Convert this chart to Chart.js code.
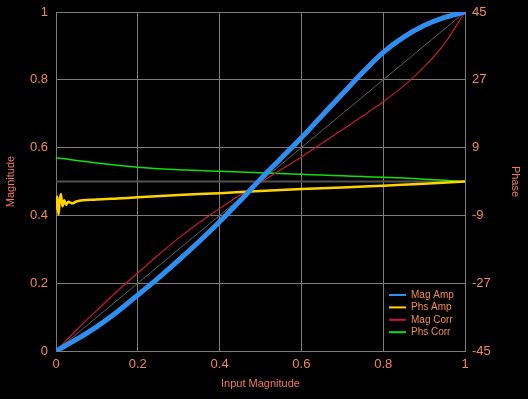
<!DOCTYPE html>
<html>
<head>
<meta charset="utf-8">
<script src="https://cdn.jsdelivr.net/npm/chart.js@4.4.1/dist/chart.umd.min.js"></script>
<style>
  html, body { margin: 0; padding: 0; background: #000; }
  #wrap { width: 528px; height: 399px; }
</style>
</head>
<body>
<div id="wrap"><canvas id="ampChart"></canvas></div>
<script>
// input magnitude samples
var magX = [0, 0.05, 0.1, 0.15, 0.2, 0.25, 0.3, 0.35, 0.4, 0.45, 0.5, 0.55, 0.6, 0.65, 0.7, 0.75, 0.8, 0.85, 0.9, 0.95, 1];

// magnitude curves (left axis)
var magAmp  = [0, 0.034, 0.072, 0.116, 0.165, 0.215, 0.268, 0.323, 0.381, 0.443, 0.507, 0.568, 0.629, 0.694, 0.758, 0.822, 0.881, 0.926, 0.96, 0.984, 1];
var magCorr = [0, 0.062, 0.12, 0.177, 0.23, 0.283, 0.333, 0.378, 0.42, 0.46, 0.497, 0.535, 0.572, 0.613, 0.653, 0.693, 0.735, 0.782, 0.838, 0.907, 1];

// phase curves (right axis, degrees)
var phsAmpX = [0, 0.003, 0.006, 0.009, 0.012, 0.016, 0.02, 0.025, 0.03, 0.04, 0.05, 0.1, 0.15, 0.2, 0.3, 0.4, 0.5, 0.6, 0.7, 0.8, 0.9, 1];
var phsAmp  = [-7.5, -4.0, -8.8, -5.2, -3.3, -6.6, -5.0, -6.2, -5.4, -5.8, -5.3, -4.8, -4.5, -4.2, -3.6, -3.1, -2.5, -2.0, -1.6, -1.1, -0.6, 0];
var phsCorr = [6.3, 5.6, 4.9, 4.3, 3.8, 3.4, 3.1, 2.9, 2.7, 2.5, 2.3, 2.1, 1.9, 1.7, 1.5, 1.3, 1.1, 0.9, 0.6, 0.3, 0];

// reference lines
var refX = [0, 1];
var refDiag = [0, 1];
var refMid = [0, 0];

var tickColor = '#f28a50';
var titleColor = '#f07a5c';
var gridColor = '#7c7c7c';

function pts(xs, ys) {
    return xs.map(function (x, i) { return { x: x, y: ys[i] }; });
}

// 1.0 -> "1", 0.0 -> "0"
function plainTick(v) {
    return String(Number(v.toFixed(1)));
}

// fixed axis width, no extra room for the end labels
function sideFit(w) {
    return function (s) {
        s.width = w;
        s.paddingTop = 0;
        s.paddingBottom = 0;
    };
}

// legend drawn inside the plot, lower right
var boxLegend = {
    id: 'boxLegend',
    afterDatasetsDraw: function (chart) {
        var ctx = chart.ctx;
        var area = chart.chartArea;
        var items = chart.data.datasets.filter(function (d) { return d.inLegend; });
        ctx.save();
        ctx.font = '10px "Liberation Sans", Arial, sans-serif';
        ctx.textBaseline = 'middle';
        items.forEach(function (d, i) {
            var y = area.bottom - 56 + i * 12.4;
            var x = area.right - 76;
            ctx.strokeStyle = d.borderColor;
            ctx.lineWidth = 2;
            ctx.beginPath();
            ctx.moveTo(x, y);
            ctx.lineTo(x + 17, y);
            ctx.stroke();
            ctx.fillStyle = tickColor;
            ctx.fillText(d.label, x + 22, y);
        });
        ctx.restore();
    }
};

var ctx = document.getElementById('ampChart').getContext('2d');
var chart = new Chart(ctx, {
    type: 'line',
    data: {
        datasets: [{
            label: 'Mag Amp',
            inLegend: true,
            data: pts(magX, magAmp),
            borderColor: '#2f8ff0',
            borderWidth: 5,
            yAxisID: 'y',
            order: 1
        }, {
            label: 'Phs Amp',
            inLegend: true,
            data: pts(phsAmpX, phsAmp),
            borderColor: '#ffd200',
            borderWidth: 2.5,
            yAxisID: 'y2',
            order: 2
        }, {
            label: 'Mag Corr',
            inLegend: true,
            data: pts(magX, magCorr),
            borderColor: '#c81a36',
            borderWidth: 1.2,
            yAxisID: 'y',
            order: 3
        }, {
            label: 'Phs Corr',
            inLegend: true,
            data: pts(magX, phsCorr),
            borderColor: '#10e010',
            borderWidth: 1.5,
            yAxisID: 'y2',
            order: 4
        }, {
            label: 'diag',
            data: pts(refX, refDiag),
            borderColor: '#5c5c5c',
            borderWidth: 1,
            yAxisID: 'y',
            order: 5
        }, {
            label: 'mid',
            data: pts(refX, refMid),
            borderColor: '#505050',
            borderWidth: 2,
            yAxisID: 'y2',
            order: 6
        }]
    },
    options: {
        responsive: true,
        maintainAspectRatio: false,
        animation: false,
        layout: { padding: { top: 12, left: 0, right: 0, bottom: 0 } },
        elements: {
            point: { radius: 0 },
            line: { cubicInterpolationMode: 'monotone' }
        },
        plugins: {
            legend: { display: false },
            tooltip: { enabled: false }
        },
        scales: {
            x: {
                type: 'linear',
                min: 0,
                max: 1,
                afterFit: function (s) { s.height = 48; },
                ticks: {
                    stepSize: 0.2,
                    color: tickColor,
                    padding: 6,
                    callback: plainTick,
                    font: { family: '"Liberation Sans", Arial, sans-serif', size: 13 }
                },
                grid: { color: gridColor, drawTicks: false },
                border: { color: gridColor },
                title: {
                    display: true,
                    text: 'Input Magnitude',
                    color: titleColor,
                    padding: 8,
                    font: { family: '"Liberation Sans", Arial, sans-serif', size: 11 }
                }
            },
            y: {
                type: 'linear',
                position: 'left',
                min: 0,
                max: 1,
                afterFit: sideFit(56),
                ticks: {
                    stepSize: 0.2,
                    color: tickColor,
                    padding: 8,
                    callback: plainTick,
                    font: { family: '"Liberation Sans", Arial, sans-serif', size: 13 }
                },
                grid: { color: gridColor, drawTicks: false },
                border: { color: gridColor },
                title: {
                    display: true,
                    text: 'Magnitude',
                    color: titleColor,
                    padding: 4,
                    font: { family: '"Liberation Sans", Arial, sans-serif', size: 11 }
                }
            },
            y2: {
                type: 'linear',
                position: 'right',
                min: -45,
                max: 45,
                afterFit: sideFit(63),
                ticks: {
                    stepSize: 18,
                    color: tickColor,
                    padding: 7,
                    font: { family: '"Liberation Sans", Arial, sans-serif', size: 13 }
                },
                grid: { display: false, drawTicks: false },
                border: { color: gridColor },
                title: {
                    display: true,
                    text: 'Phase',
                    color: titleColor,
                    padding: 6,
                    font: { family: '"Liberation Sans", Arial, sans-serif', size: 11 }
                }
            }
        }
    },
    plugins: [boxLegend]
});
</script>
</body>
</html>
